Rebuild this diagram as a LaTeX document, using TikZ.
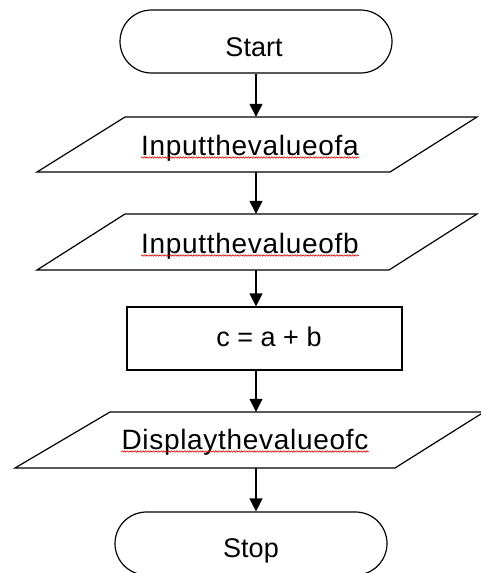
\documentclass[tikz,border=0pt]{standalone}
\usepackage{fontspec}
\setmainfont{Liberation Sans}
\usetikzlibrary{arrows.meta,decorations.pathmorphing,shapes.misc}
\begin{document}
\begin{tikzpicture}[x=1pt,y=-1pt,
  outline/.style={draw=black,line width=1.2pt},
  term/.style={outline,rounded rectangle,inner sep=0pt},
  body/.style={inner sep=0pt,minimum width=1pt},
  flow/.style={draw=black,line width=1.3pt,-{Triangle[length=13pt,width=13pt]}},
  txt/.style={inner sep=0pt,anchor=base,font=\fontsize{27}{30}\selectfont},
  spaced/.style={font=\fontsize{28}{30}\selectfont\addfontfeature{LetterSpace=2.5}},
  spell/.style={draw=red!85!black,line width=0.6pt,decorate,
     decoration={snake,amplitude=0.7pt,segment length=2.6pt}}]
\useasboundingbox (0,0) rectangle (481,573);
\fill[white] (0,0) rectangle (481,573);

% Start
\node[term,minimum width=272pt,minimum height=63pt] (start) at (256,41.5) {};
\node[txt] (starttxt) at (254,56.5) {Start};

% Input a
\draw[outline] (125,117) -- (477,117) -- (390,172) -- (37,172) -- cycle;
\node[body,minimum height=55pt] (ina) at (256,144.5) {};
\node[txt,spaced] (inatxt) at (250,155) {Inputthevalueofa};
\draw[spell] ([yshift=-2.5pt]inatxt.base west) -- ([yshift=-2.5pt]inatxt.base east);

% Input b
\draw[outline] (125,214) -- (477,214) -- (389,270) -- (37,270) -- cycle;
\node[body,minimum height=56pt] (inb) at (256,242) {};
\node[txt,spaced] (inbtxt) at (250,253) {Inputthevalueofb};
\draw[spell] ([yshift=-2.5pt]inbtxt.base west) -- ([yshift=-2.5pt]inbtxt.base east);

% Process
\node[outline,rectangle,inner sep=0pt,minimum width=275pt,minimum height=63pt] (calc) at (264.5,338.5) {};
\node[txt] (calctxt) at (269,346) {c = a + b};

% Display
\draw[outline] (110,412) -- (484,412) -- (395,468) -- (15,468) -- cycle;
\node[body,minimum height=56pt] (disp) at (256,440) {};
\node[txt,spaced] (disptxt) at (245,449) {Displaythevalueofc};
\draw[spell] ([yshift=-2.5pt]disptxt.base west) -- ([yshift=-2.5pt]disptxt.base east);

% Stop
\node[term,minimum width=272pt,minimum height=63pt] (stop) at (251,543.5) {};
\node[txt] (stoptxt) at (251,557) {Stop};

% connectors
\draw[flow] (start.south -| ina) -- (ina.north);
\draw[flow] (ina.south) -- (inb.north);
\draw[flow] (inb.south) -- (inb.south |- calc.north);
\draw[flow] (disp.north |- calc.south) -- (disp.north);
\draw[flow] (disp.south) -- (disp.south |- stop.north);
\end{tikzpicture}
\end{document}
